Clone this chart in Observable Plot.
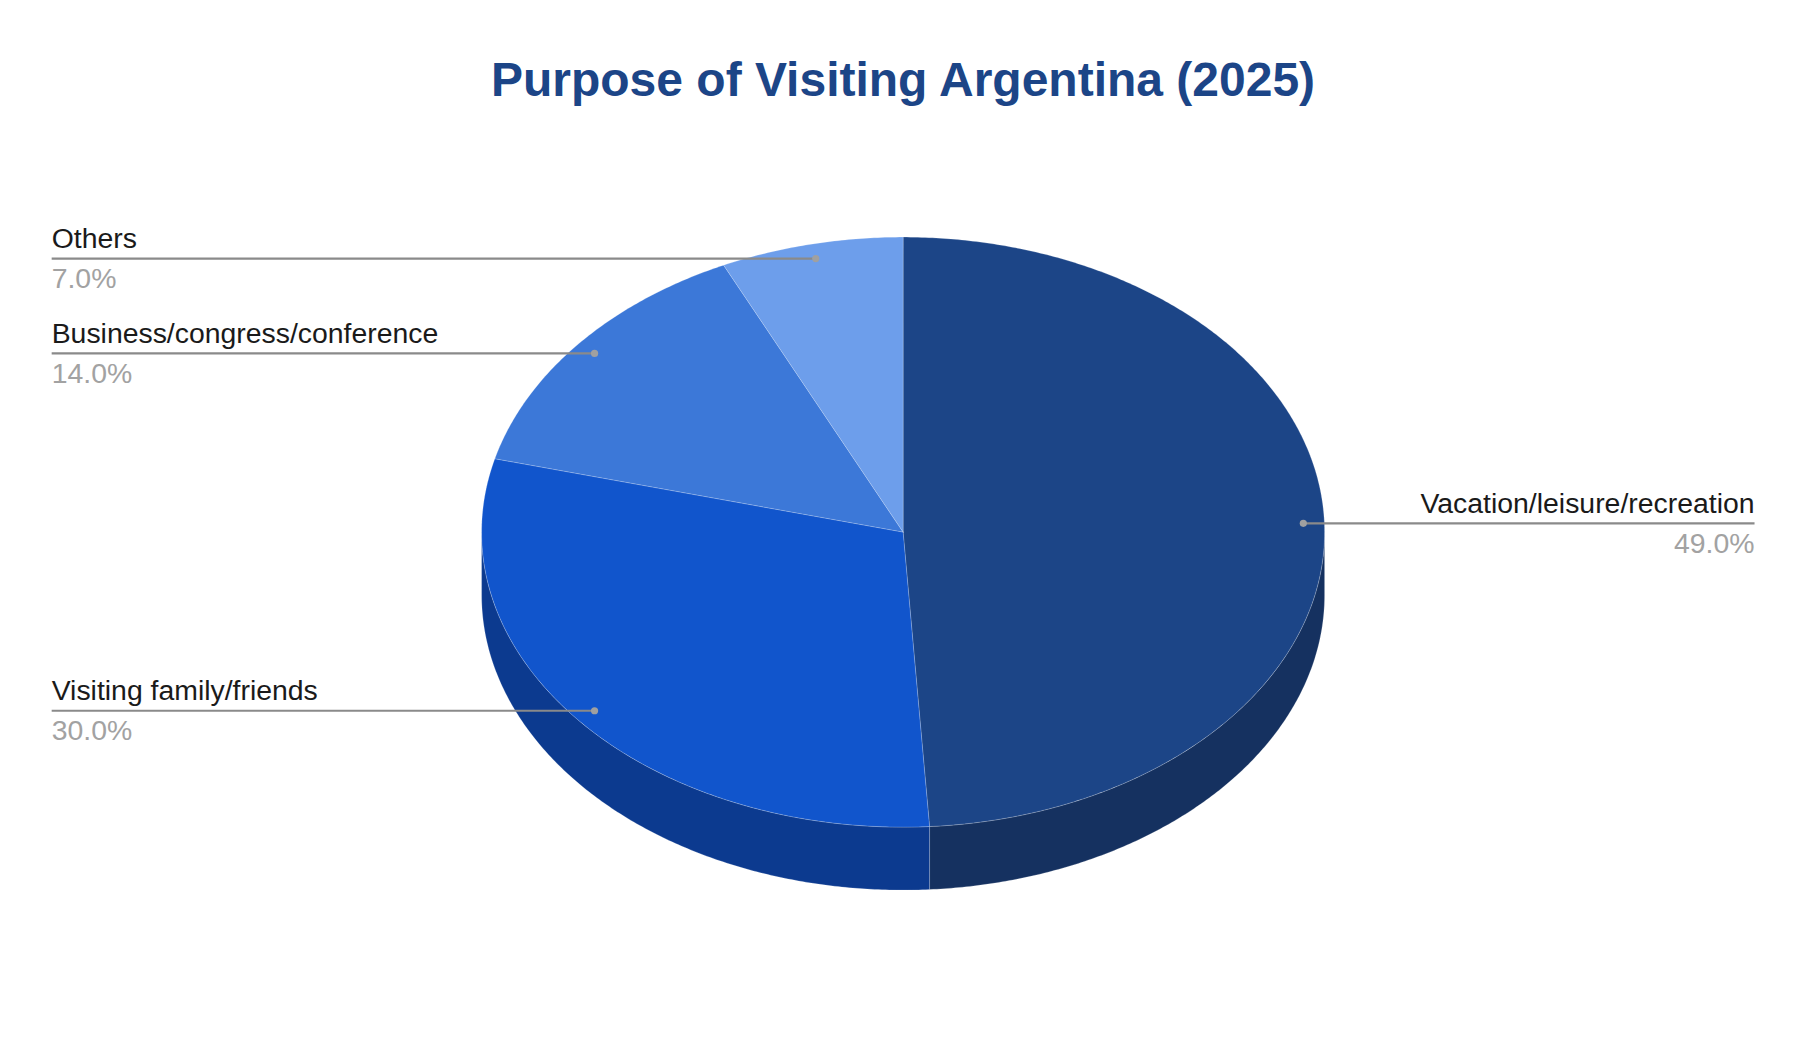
<!DOCTYPE html>
<html>
<head>
<meta charset="utf-8">
<script src="https://cdn.jsdelivr.net/npm/d3@7"></script>
<script src="https://cdn.jsdelivr.net/npm/@observablehq/plot@0.6"></script>
<style>
  html, body { margin: 0; padding: 0; background: #fff; }
  #title { height: 140px; width: 1806px; box-sizing: border-box; padding-top: 51px; text-align: center;
    font: bold 48px/58px "Liberation Sans", Arial, sans-serif; color: #1c4587; }
  #chart svg { display: block; }
</style>
</head>
<body>
<div id="title">Purpose of Visiting Argentina (2025)</div>
<div id="chart"></div>
<script>
const categories = ["Vacation/leisure/recreation", "Visiting family/friends", "Business/congress/conference", "Others"];
const values = [49, 30, 14, 7];
const percentLabels = ["49.0%", "30.0%", "14.0%", "7.0%"];
const topColors = ["#1c4587", "#1155cc", "#3c78d8", "#6d9eeb"];
const sideColors = ["#153160", "#0c3a8f", "#2a54a0", "#4c6fa5"];

const W = 1806, H = 898, rx = 421.5, ry = 295, cx = 902.6, cy = 391.6, depth = 63;
const depthUnits = depth / ry;
const labelEdge = 2.02, leaderRadius = 0.95;

const total = d3.sum(values);
let cum = 0;
const slices = categories.map((name, i) => {
  const start = cum / total * 2 * Math.PI;
  cum += values[i];
  const end = cum / total * 2 * Math.PI;
  return { name, i, start, end, mid: (start + end) / 2, pct: percentLabels[i] };
});
const rim = (a, b) => {
  const n = Math.max(2, Math.ceil((b - a) / (Math.PI / 360)));
  return d3.range(n + 1).map(k => a + (b - a) * k / n);
};

const topPts = slices.flatMap(s => [
  { name: s.name, x: 0, y: 0 },
  ...rim(s.start, s.end).map(t => ({ name: s.name, x: Math.sin(t), y: Math.cos(t) })),
  { name: s.name, x: 0, y: 0 }
]);

const sidePts = slices.flatMap(s => {
  const a = Math.max(s.start, Math.PI / 2), b = Math.min(s.end, 3 * Math.PI / 2);
  if (b <= a) return [];
  const arc = rim(a, b);
  return [
    ...arc.map(t => ({ i: s.i, x: Math.sin(t), y: Math.cos(t) })),
    ...arc.slice().reverse().map(t => ({ i: s.i, x: Math.sin(t), y: Math.cos(t) - depthUnits })),
    { i: s.i, x: Math.sin(a), y: Math.cos(a) }
  ];
});

const labels = slices.map(s => {
  const ax = leaderRadius * Math.sin(s.mid), ay = leaderRadius * Math.cos(s.mid);
  const right = ax > 0;
  return { ...s, ax, ay, lx: right ? labelEdge : -labelEdge, anchor: right ? "end" : "start" };
});

const sideMarks = d3.groups(sidePts, d => d.i).map(([i, pts]) =>
  Plot.line(pts, { x: "x", y: "y", fill: sideColors[i], stroke: "#fff", strokeOpacity: 0.28, strokeWidth: 0.7, curve: "linear" })
);

const fontFamily = "Liberation Sans, Arial, sans-serif";
const textOf = (anchor) => labels.filter(d => d.anchor === anchor);

const plot = Plot.plot({
  width: W, height: H,
  marginTop: 0, marginRight: 0, marginBottom: 0, marginLeft: 0,
  style: { background: "#fff", fontFamily },
  x: { domain: [-cx / rx, (W - cx) / rx], range: [0, W], axis: null },
  y: { domain: [-(H - cy) / ry, cy / ry], range: [H, 0], axis: null },
  color: { domain: categories, range: topColors },
  marks: [
    ...sideMarks,
    Plot.line(topPts, { x: "x", y: "y", z: "name", fill: "name", stroke: "#fff", strokeOpacity: 0.28, strokeWidth: 0.7, curve: "linear" }),
    Plot.link(labels, { x1: "ax", y1: "ay", x2: "lx", y2: "ay", stroke: "#8a8a8a", strokeWidth: 2.2 }),
    Plot.dot(labels, { x: "ax", y: "ay", r: 3.6, fill: "#a0a0a0", stroke: "none" }),
    ...["start", "end"].flatMap(anchor => [
      Plot.text(textOf(anchor), { x: "lx", y: "ay", text: "name", textAnchor: anchor, lineAnchor: "bottom", dy: -10.6, fontSize: 28.4, fill: "#1a1a1a", fontFamily }),
      Plot.text(textOf(anchor), { x: "lx", y: "ay", text: "pct", textAnchor: anchor, lineAnchor: "top", dy: 9.4, fontSize: 28.4, fill: "#a2a2a2", fontFamily })
    ])
  ]
});
document.getElementById("chart").appendChild(plot);
</script>
</body>
</html>
